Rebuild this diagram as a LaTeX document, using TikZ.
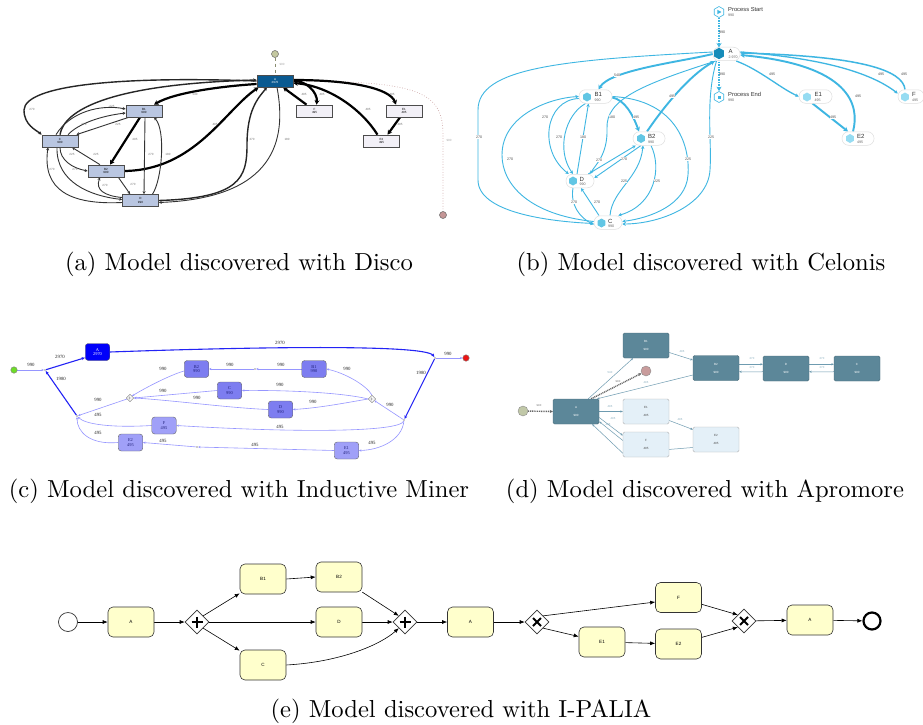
\documentclass[tikz,border=0pt]{standalone}
\usepackage{fontspec}
\newfontfamily\sansf{Liberation Sans}
\newfontfamily\serf{Liberation Serif}
\newfontfamily\capf{lmroman10-regular.otf}
\usetikzlibrary{arrows.meta,shapes.geometric,calc}
\pgfdeclarelayer{bg}
\pgfsetlayers{bg,main}
\newcommand\myfs[2]{\fontsize{#1}{#2}\selectfont}
\definecolor{discoA}{RGB}{10,90,145}
\definecolor{discoB}{RGB}{185,198,225}
\definecolor{discoL}{RGB}{242,240,247}
\definecolor{dSt}{RGB}{196,200,160}
\definecolor{dEn}{RGB}{196,150,150}
\definecolor{cel}{RGB}{62,182,226}
\definecolor{celA}{RGB}{22,140,185}
\definecolor{celN}{RGB}{98,198,228}
\definecolor{celL}{RGB}{150,220,242}
\definecolor{imA}{RGB}{0,0,250}
\definecolor{imN}{RGB}{125,125,240}
\definecolor{imL}{RGB}{160,160,248}
\definecolor{imE}{RGB}{150,150,255}
\definecolor{imB}{RGB}{35,35,245}
\definecolor{imT}{RGB}{30,30,120}
\definecolor{imG}{RGB}{110,220,40}
\definecolor{imR}{RGB}{235,20,20}
\definecolor{apD}{RGB}{92,135,153}
\definecolor{apL}{RGB}{228,240,248}
\definecolor{apE}{RGB}{110,155,176}
\definecolor{aSt}{RGB}{193,200,168}
\definecolor{aEn}{RGB}{201,156,156}
\definecolor{bpY}{RGB}{255,255,204}
\begin{document}
\begin{tikzpicture}[x=1pt,y=-1pt,
  dbox/.style={draw=black!70, line width=0.7, fill=discoB, minimum width=36, minimum height=12, inner sep=0, align=center, font=\sansf\myfs{3}{3.8}},
  dboxA/.style={dbox, fill=discoA, text=white},
  dboxL/.style={dbox, fill=discoL},
  dcirc/.style={circle, draw=black!60, line width=0.5, minimum size=7, inner sep=0},
  de/.style={draw=black!80, line width=0.9, -{Stealth[length=3pt,width=3pt]}},
  deM/.style={draw=black!85, line width=1.4, -{Stealth[length=3.5pt,width=3.5pt]}},
  deT/.style={draw=black, line width=2.2, -{Stealth[length=4.5pt,width=5pt]}},
  dl/.style={font=\sansf\myfs{3}{3}, text=black!55, inner sep=0.5},
  cpill/.style={draw=black!13, line width=0.5, fill=white, rounded corners=6.5pt, minimum height=13.5, inner sep=0},
  chx/.style={regular polygon, regular polygon sides=6, shape border rotate=30, minimum size=9, inner sep=0, draw=none},
  ct/.style={font=\sansf\myfs{6}{6}, text=black!80, anchor=west, inner sep=0},
  cn/.style={font=\sansf\myfs{3.6}{3.6}, text=black!60, anchor=west, inner sep=0},
  ce/.style={draw=cel, line width=0.9, -{Stealth[length=3.5pt,width=3.5pt]}},
  ceT/.style={draw=cel, line width=1.9, -{Stealth[length=4.5pt,width=5pt]}},
  cl/.style={font=\sansf\myfs{3.6}{3.6}, text=black!70, fill=white, inner sep=0.4},
  ibox/.style={draw=black!60, line width=0.4, rounded corners=3pt, minimum width=24.5, minimum height=17, inner sep=0, align=center, font=\serf\myfs{4.4}{4.8}, text=imT},
  ie/.style={draw=imE, line width=0.6, -{Stealth[length=2.5pt,width=2.2pt]}},
  ieT/.style={draw=imB, line width=1.1, -{Stealth[length=3.5pt,width=3pt]}},
  il/.style={font=\serf\myfs{4.8}{4.8}, text=black!85, inner sep=0.3},
  ipt/.style={circle, minimum size=1.8, inner sep=0, fill=black!40},
  icirc/.style={circle, draw=black!50, line width=0.4, minimum size=6.5, inner sep=0},
  idia/.style={diamond, shape aspect=1, draw=black!60, fill=white, minimum width=7, minimum height=7, inner sep=0, line width=0.4, font=\myfs{4}{4}},
  abD/.style={draw=apD!80!black, fill=apD, line width=0.4, rounded corners=1.5pt, minimum width=46, minimum height=25, inner sep=0, align=center, font=\sansf\myfs{3}{8}, text=white},
  abL/.style={abD, draw=black!30, fill=apL, text=black!70},
  acirc/.style={circle, draw=black!45, line width=0.4, minimum size=10, inner sep=0},
  ae/.style={draw=apE, line width=0.5, -{Stealth[length=2.5pt,width=2.2pt]}},
  adot/.style={draw=black!60, line width=1.4, dash pattern=on 1pt off 0.8pt, -{Stealth[length=3pt,width=3pt]}},
  al/.style={font=\sansf\myfs{2.8}{2.8}, text=apE!85, inner sep=0.3},
  bt/.style={draw=black!80, line width=0.6, fill=bpY, rounded corners=5pt, minimum width=46, minimum height=30, inner sep=0, font=\sansf\myfs{4.6}{4.6}},
  bgw/.style={diamond, shape aspect=1, draw=black!80, fill=white, minimum width=24, minimum height=24, inner sep=0, line width=0.6},
  be/.style={draw=black, line width=0.6, -{Latex[length=5pt,width=4pt]}},
  captxt/.style={font=\capf\myfs{24.6}{28}, inner sep=0}
]
\useasboundingbox (0,0) rectangle (923,725);
\begin{pgfonlayer}{bg}
\fill[white] (0,0) rectangle (923,725);
\end{pgfonlayer}

%%%%%%%%%%%%%%%% (a) Disco
\node[dcirc, fill=dSt] (dS) at (275,54) {};
\node[dboxA] (dA) at (275,81) {A\\2970};
\node[dbox] (dB1) at (144,111) {B1\\990};
\node[dbox] (dC) at (60,141) {C\\990};
\node[dbox] (dB2) at (106,171) {B2\\990};
\node[dbox] (dD) at (140.5,200.5) {D\\990};
\node[dboxL] (dF) at (314.5,111) {F\\495};
\node[dboxL] (dE1) at (404,111) {E1\\495};
\node[dboxL] (dE2) at (381.5,141) {E2\\495};
\node[dcirc, fill=dEn] (dEn) at (443,215) {};
\begin{pgfonlayer}{bg}
\draw[dashed, draw=dSt!70!black, line width=0.5] (dS) -- (dA) node[dl,text=black!35] at (282,64) {990};
\draw[dotted, draw=dEn, line width=0.6] (dA.east) .. controls (420,81) and (443,92) .. (443,135) -- (dEn) node[dl,text=black!35] at (449,140) {990};
\draw[deM] (dA.west) .. controls (120,76) and (25,85) .. (24,110) .. controls (24,125) and (36,130) .. (dC.north west) node[dl] at (32,109) {270};
\draw[deM] (dC.north) .. controls (64,110) and (110,84) .. ([yshift=1]dA.west);
\draw[de] ([xshift=-4]dC.north) .. controls (70,112) and (100,104) .. ([yshift=2]dB1.west) node[dl] at (112,106) {225};
\draw[de] ([xshift=8]dC.north) .. controls (78,124) and (100,116) .. ([yshift=-2]dB1.west) node[dl] at (84,124) {270};
\draw[de] ([xshift=3]dB1.south west) -- ([xshift=-2]dC.north east) node[dl] at (118,124) {225};
\draw[deT] ([yshift=-3]dA.west) .. controls (225,86) and (175,92) .. ([xshift=10]dB1.north) node[dl] at (195,94) {540};
\draw[deT] (dB2.east) .. controls (195,170) and (225,110) .. ([xshift=2]dA.south west) node[dl] at (215,124) {495};
\draw[deM] (dD.east) .. controls (240,198) and (247,178) .. (247,145) .. controls (247,110) and (258,98) .. ([xshift=-8]dA.south) node[dl] at (252,139) {270};
\draw[de] ([xshift=2]dA.south) .. controls (287,140) and (275,198) .. ([yshift=-2]dD.east) node[dl] at (287,139) {180};
\draw[deT] ([xshift=-4]dB1.south) -- ([xshift=4]dB2.north) node[dl] at (135,139) {495};
\draw[de] ([xshift=1]dB1.south) -- ([xshift=3.5]dD.north) node[dl] at (151,154) {270};
\draw[de] ([xshift=12]dD.north) .. controls (162,180) and (166,130) .. ([xshift=10]dB1.south) node[dl] at (168,154) {180};
\draw[de] (dC.south) .. controls (60,160) and (72,168) .. (dB2.west) node[dl] at (72,154) {225};
\draw[de] ([xshift=-6]dB2.north) -- ([xshift=12]dC.south) node[dl] at (96,154) {225};
\draw[de] ([xshift=-3]dC.south) .. controls (56,182) and (90,196) .. ([yshift=1]dD.west) node[dl] at (75,169) {270};
\draw[de] ([yshift=-2]dD.west) .. controls (70,205) and (42,190) .. ([xshift=-12]dC.south) node[dl] at (52,169) {270};
\draw[de] ([xshift=-6]dB2.south east) -- ([xshift=8]dD.north west) node[dl] at (133,184) {270};
\draw[de] ([yshift=3]dD.west) .. controls (105,196) and (95,190) .. ([xshift=-6]dB2.south) node[dl] at (105,185) {270};
\draw[deT] (dA.east) .. controls (305,80) and (318,92) .. ([xshift=2]dF.north) node[dl] at (322,94) {495};
\draw[deT] ([xshift=-8]dF.north) -- ([xshift=8]dA.south) node[dl] at (304,94) {495};
\draw[deT] ([yshift=1]dA.east) .. controls (350,80) and (390,88) .. ([xshift=-8]dE1.north) node[dl] at (392,94) {495};
\draw[deT] ([xshift=-4]dE1.south) -- ([xshift=6]dE2.north) node[dl] at (400,124) {495};
\draw[deT] ([xshift=-4]dE2.north) .. controls (362,110) and (330,86) .. ([yshift=-2]dA.east) node[dl] at (368,109) {495};
\end{pgfonlayer}
\node[captxt] (capa) at (239,264) {(a) Model discovered with Disco};

%%%%%%%%%%%%%%%% (b) Celonis
\node[chx, minimum size=11, draw=cel, fill=white, line width=0.6] (cS) at (719,12) {};
\fill[cel] (717.4,9.8) -- (721.4,12) -- (717.4,14.2) -- cycle;
\node[ct, font=\sansf\myfs{5.8}{5.8}] (cSt) at (728,9.5) {Process Start};
\node[cn] (cSn) at (728,15.5) {990};
\node[chx, minimum size=11, draw=cel, fill=white, line width=0.6] (cEi) at (719,97) {};
\fill[cel] (717.5,95.5) rectangle (720.5,98.5);
\node[ct, font=\sansf\myfs{5.8}{5.8}] (cEt) at (728,94.5) {Process End};
\node[cn] (cEn) at (728,100.5) {990};

\node[cpill, minimum width=27] (cA) at (726.5,54) {};
\node[chx, minimum size=11.5, fill=celA] (cAi) at (719,53.5) {};
\node[ct] (cAt) at (728.5,51) {A};
\node[cn] (cAn) at (728.5,57.5) {2.970};

\node[cpill, minimum width=33] (cB1) at (595.5,96.5) {};
\node[chx, fill=celN] (cB1i) at (587,97) {};
\node[ct] (cB1t) at (594.5,94.5) {B1};
\node[cn] (cB1n) at (594.5,100) {990};

\node[cpill, minimum width=32] (cB2) at (649,138.5) {};
\node[chx, fill=celN] (cB2i) at (641,138.5) {};
\node[ct] (cB2t) at (648,136.5) {B2};
\node[cn] (cB2n) at (648,142) {990};

\node[cpill, minimum width=28] (cD) at (580,181) {};
\node[chx, fill=celN] (cDi) at (573,181) {};
\node[ct] (cDt) at (579.5,179) {D};
\node[cn] (cDn) at (579.5,184.5) {990};

\node[cpill, minimum width=28] (cC) at (608,222.5) {};
\node[chx, fill=celN] (cCi) at (601.5,223) {};
\node[ct] (cCt) at (608,221) {C};
\node[cn] (cCn) at (608,226.5) {990};

\node[cpill, minimum width=33] (cE1) at (815.5,96.5) {};
\node[chx, fill=celL] (cE1i) at (807,97) {};
\node[ct] (cE1t) at (814.5,94.5) {E1};
\node[cn] (cE1n) at (814.5,100) {495};

\node[cpill, minimum width=32] (cE2) at (858,138.5) {};
\node[chx, fill=celL] (cE2i) at (850,138.5) {};
\node[ct] (cE2t) at (857,136.5) {E2};
\node[cn] (cE2n) at (857,142) {495};

\node[cpill, minimum width=26] (cF) at (911,96.5) {};
\node[chx, fill=celL] (cFi) at (905,97) {};
\node[ct] (cFt) at (912,94.5) {F};
\node[cn] (cFn) at (912,100) {495};

\begin{pgfonlayer}{bg}
\draw[ceT, dash pattern=on 1.5pt off 1pt] (cS) -- (cAi) node[cl, fill=none] at (722,32) {990};
\draw[ceT, dash pattern=on 1.5pt off 1pt] (cAi) -- (cEi) node[cl, fill=none] at (722,74) {990};
\draw[ceT] (cA.west) .. controls (680,62) and (610,70) .. ([xshift=3]cB1.north) node[cl] at (617,75) {540};
\draw[ceT] ([yshift=-1]cB1.east) .. controls (625,100) and (633,115) .. ([xshift=-10]cB2.north) node[cl] at (636,117) {495};
\draw[ceT] ([xshift=-2]cB2.north) .. controls (665,105) and (690,75) .. ([xshift=2]cA.south west) node[cl] at (672,96) {495};
\draw[ce, line width=1.3] ([xshift=-4]cA.south east) .. controls (760,70) and (780,88) .. (cE1.west) node[cl] at (772,74) {495};
\draw[ceT] ([xshift=-3]cE1.south) -- ([xshift=-10]cE2.north) node[cl] at (833,117) {495};
\draw[ceT] ([xshift=-5]cE2.north) .. controls (860,105) and (850,65) .. ([yshift=-1]cA.east) node[cl] at (858,96) {495};
\draw[ce, line width=1.3] ([yshift=2]cA.east) .. controls (820,58) and (870,72) .. ([yshift=3]cF.west) node[cl] at (881,74) {495};
\draw[ce, line width=1.5] ([xshift=-6]cF.north) .. controls (903,70) and (860,56) .. ([yshift=1]cA.east) node[cl] at (904,74) {495};
\draw[ce] ([yshift=2]cA.west) .. controls (560,60) and (478,68) .. (478,110) -- (478,180) .. controls (478,215) and (560,222) .. ([yshift=-1]cC.west) node[cl] at (479,137) {270};
\draw[ce] ([yshift=1]cC.west) .. controls (530,215) and (502,185) .. (502,155) .. controls (502,115) and (550,98) .. (cB1.west) node[cl] at (510,159) {270};
\draw[ce] ([yshift=-2]cB1.west) .. controls (545,100) and (538,150) .. ([xshift=3]cD.north west) node[cl] at (545,117) {270};
\draw[ce] ([xshift=-10]cB1.south) .. controls (565,115) and (556,150) .. ([xshift=-7]cD.north) node[cl] at (559,137) {270};
\draw[ce] ([xshift=-3]cD.north) -- ([xshift=-7]cB1.south) node[cl] at (583,137) {180};
\draw[ce] ([xshift=3]cA.south west) .. controls (640,85) and (606,100) .. (607,128) .. controls (608,155) and (595,165) .. ([xshift=-4]cD.north east) node[cl] at (612,117) {180};
\draw[ce] ([xshift=-6]cD.north east) -- ([xshift=3]cB2.south west) node[cl] at (599,160) {270};
\draw[ce] ([xshift=-8]cB2.south) -- ([yshift=3]cD.east) node[cl] at (624,159) {270};
\draw[ce] ([xshift=2]cC.north) .. controls (612,190) and (640,178) .. ([xshift=-6]cB2.south) node[cl] at (624,181) {225};
\draw[ce] ([xshift=2]cB2.south) .. controls (662,168) and (655,205) .. ([xshift=-4]cC.north east) node[cl] at (657,181) {225};
\draw[ce] (cB1.east) .. controls (680,100) and (690,150) .. (688,175) .. controls (686,205) and (650,218) .. ([yshift=1]cC.east) node[cl] at (688,159) {225};
\draw[ce] ([xshift=-10]cA.south) .. controls (705,100) and (712,140) .. (710,170) .. controls (708,205) and (660,224) .. ([yshift=-1.5]cC.east) node[cl] at (711,137) {225};
\draw[ce] ([xshift=-7]cD.south) .. controls (570,205) and (580,218) .. ([yshift=-2]cC.west) node[cl] at (574,202) {270};
\draw[ce] ([xshift=-9]cC.north) -- ([xshift=1]cD.south) node[cl] at (597,202) {270};
\end{pgfonlayer}
\node[captxt] (capb) at (701,264) {(b) Model discovered with Celonis};

%%%%%%%%%%%%%%%% (c) Inductive Miner
\node[icirc, fill=imG] (iS) at (14,370) {};
\node[ipt] (iJ) at (45,370) {};
\node[ibox, fill=imA, text=white] (iA) at (97.5,352) {A\\2970};
\node[ipt] (iSp) at (435,358) {};
\node[icirc, fill=imR] (iE) at (466,358) {};
\node[ibox, fill=imN] (iB1) at (314,369) {B1\\990};
\node[ipt] (iP1) at (255,369) {};
\node[ibox, fill=imN] (iB2) at (196.5,369) {B2\\990};
\node[ibox, fill=imN] (iC) at (229.5,390.5) {C\\990};
\node[ibox, fill=imN] (iD) at (280.5,409.5) {D\\990};
\node[idia] (iXR) at (372,399) {+};
\node[idia] (iXL) at (130,398) {+};
\node[ipt] (iP2) at (404,420) {};
\node[ipt] (iP3) at (77,416) {};
\node[ibox, fill=imL] (iF) at (164,425.5) {F\\495};
\node[ibox, fill=imL] (iE2) at (130.5,442.5) {E2\\495};
\node[ibox, fill=imL] (iE1) at (346.5,450.5) {E1\\495};
\node[ipt] (iP4) at (197,447) {};
\begin{pgfonlayer}{bg}
\draw[ie] (iS) -- (iJ) node[il] at (31,365) {990};
\draw[ieT] (iJ) -- ([yshift=3]iA.south west) node[il] at (60,357) {2970};
\draw[ieT] (iA.east) .. controls (250,347) and (425,344) .. (iSp) node[il] at (280,343) {2970};
\draw[ie] (iSp) -- (iE) node[il] at (448,354) {990};
\draw[ieT] (iSp) -- (iP2) node[il] at (421,373) {1980};
\draw[ieT] (iP3) -- (iJ) node[il] at (61,379) {1980};
\draw[ie] (iP2) -- (iXR) node[il] at (390,405) {990};
\draw[ie] (iXR.north) .. controls (366,385) and (345,373) .. (iB1.east) node[il] at (347,369) {990};
\draw[ie] (iB1.west) -- (iP1) node[il] at (281,365) {990};
\draw[ie] (iP1) -- (iB2.east) node[il] at (230,365) {990};
\draw[ie] ([yshift=-2]iB2.west) .. controls (170,375) and (145,388) .. (iXL.north east) node[il] at (163,369) {990};
\draw[ie] (iXR.west) .. controls (345,393) and (290,390) .. (iC.east) node[il] at (280,385) {990};
\draw[ie] (iC.west) -- (iXL.east) node[il] at (163,391) {990};
\draw[ie] (iXR.west) .. controls (350,402) and (320,408) .. (iD.east) node[il] at (313,402) {990};
\draw[ie] (iD.west) .. controls (230,408) and (170,400) .. (iXL.east) node[il] at (197,398) {990};
\draw[ie] (iXL) -- (iP3) node[il] at (98,400) {990};
\draw[ie] (iP2) .. controls (400,432) and (300,433) .. (iF.east) node[il] at (280,427) {495};
\draw[ie] (iF.west) .. controls (110,428) and (85,424) .. (iP3) node[il] at (98,415) {495};
\draw[ie] (iP2) .. controls (402,440) and (380,450) .. (iE1.east) node[il] at (372,443) {495};
\draw[ie] (iE1.west) -- (iP4) node[il] at (255,445) {495};
\draw[ie] (iP4) -- (iE2.east) node[il] at (163,441) {495};
\draw[ie] (iE2.west) .. controls (90,445) and (77,432) .. (iP3) node[il] at (98,433) {495};
\end{pgfonlayer}
\node[captxt] (capc) at (239,491) {(c) Model discovered with Inductive Miner};

%%%%%%%%%%%%%%%% (d) Apromore
\node[acirc, fill=aSt] (aS) at (523,411) {};
\node[abD] (aA) at (576,411.5) {A\\990};
\node[abD] (aB1) at (646,345.5) {B1\\990};
\node[acirc, fill=aEn] (aEn) at (646,371) {};
\node[abD] (aB2) at (716,368) {B2\\990};
\node[abD] (aD) at (786,368.5) {D\\990};
\node[abD] (aC) at (857,368.5) {C\\990};
\node[abL] (aE1) at (646,411.5) {E1\\495};
\node[abL] (aF) at (646,444.5) {F\\495};
\node[abL] (aE2) at (716,439.5) {E2\\495};
\begin{pgfonlayer}{bg}
\draw[adot] (aS) -- (aA.west) node[al, text=black!55] at (539,406) {990};
\draw[adot] ([xshift=-8]aA.north east) -- (aEn) node[al, text=black!55] at (618,382) {990};
\draw[ae] ([xshift=-11]aA.north east) -- ([xshift=-13]aB1.south) node[al] at (610,373) {540};
\draw[ae] ([yshift=-7]aB1.east) -- ([yshift=8]aB2.west) node[al] at (682,352) {495};
\draw[ae] ([yshift=-7]aB2.west) -- ([xshift=-2]aA.north east) node[al] at (646,383) {495};
\draw[ae] (aA.east) -- (aE1.west) node[al] at (610,407) {495};
\draw[ae] ([yshift=-9]aE1.east) -- ([yshift=10]aE2.west) node[al] at (680,420) {495};
\draw[ae] ([yshift=-6]aA.east) -- ([yshift=9]aF.west) node[al] at (613,419) {495};
\draw[ae] ([yshift=4]aF.west) -- ([yshift=-10]aA.east) node[al] at (608,425) {495};
\draw[ae] ([yshift=-8]aE2.west) -- ($(aF.south west)+(0,-4)$) -- ([xshift=-7]aA.south east);
\draw[ae] ([yshift=3.7]aB2.east) -- ([yshift=4.2]aD.west) node[al] at (752,359) {270};
\draw[ae] ([yshift=-3.2]aD.west) .. controls (760,372) and (750,372) .. ([yshift=-3.7]aB2.east) node[al] at (752,368) {270};
\draw[ae] ([yshift=4.2]aD.east) -- ([yshift=4.2]aC.west) node[al] at (822,359) {270};
\draw[ae] ([yshift=-3.2]aC.west) .. controls (830,372) and (820,372) .. ([yshift=-3.2]aD.east) node[al] at (822,368) {270};
\end{pgfonlayer}
\node[captxt] (capd) at (705,491) {(d) Model discovered with Apromore};

%%%%%%%%%%%%%%%% (e) I-PALIA
\node[circle, draw=black!80, line width=0.7, fill=white, minimum size=19, inner sep=0] (bS) at (68,622) {};
\node[bt] (bA1) at (131,622) {A};
\node[bgw] (bG1) at (197,622) {};
\node[bt] (bB1) at (263,579) {B1};
\node[bt] (bB2) at (339,577) {B2};
\node[bt] (bD) at (339,622) {D};
\node[bt] (bC) at (263,665) {C};
\node[bgw] (bG2) at (405,622) {};
\node[bt] (bA2) at (470.5,622) {A};
\node[bgw] (bX1) at (537,622) {};
\node[bt] (bF) at (678.5,597.5) {F};
\node[bt] (bE1) at (602,642) {E1};
\node[bt] (bE2) at (678.5,644) {E2};
\node[bgw] (bX2) at (744,621) {};
\node[bt] (bA3) at (810,620) {A};
\node[circle, draw=black, line width=2.2, fill=white, minimum size=17, inner sep=0] (bEnd) at (872,621) {};
\draw[line width=1.8] ($(bG1)+(-5.5,0)$) -- ($(bG1)+(5.5,0)$) ($(bG1)+(0,-5.5)$) -- ($(bG1)+(0,5.5)$);
\draw[line width=1.8] ($(bG2)+(-5.5,0)$) -- ($(bG2)+(5.5,0)$) ($(bG2)+(0,-5.5)$) -- ($(bG2)+(0,5.5)$);
\draw[line width=1.8] ($(bX1)+(-4,-4)$) -- ($(bX1)+(4,4)$) ($(bX1)+(-4,4)$) -- ($(bX1)+(4,-4)$);
\draw[line width=1.8] ($(bX2)+(-4,-4)$) -- ($(bX2)+(4,4)$) ($(bX2)+(-4,4)$) -- ($(bX2)+(4,-4)$);
\begin{pgfonlayer}{bg}
\draw[be] (bS) -- (bA1);
\draw[be] (bA1) -- (bG1);
\draw[be] (bG1.north east) -- (bB1);
\draw[be] (bG1.east) -- (bD.west);
\draw[be] (bG1.south east) -- (bC);
\draw[be] (bB1.east) -- (bB2.west);
\draw[be] (bB2) -- (bG2.north west);
\draw[be] (bD.east) -- (bG2.west);
\draw[be] (bC.east) .. controls (340,662) and (380,645) .. (bG2.south west);
\draw[be] (bG2) -- (bA2);
\draw[be] (bA2) -- (bX1);
\draw[be] (bX1.north east) -- ($(bF.west)+(0,4.5)$);
\draw[be] (bX1.south east) -- (bE1);
\draw[be] (bE1) -- (bE2);
\draw[be] (bF) -- (bX2.north west);
\draw[be] (bE2) -- (bX2.south west);
\draw[be] (bX2) -- (bA3);
\draw[be] (bA3) -- (bEnd);
\end{pgfonlayer}
\node[captxt] (cape) at (461,711) {(e) Model discovered with I-PALIA};
\end{tikzpicture}
\end{document}
